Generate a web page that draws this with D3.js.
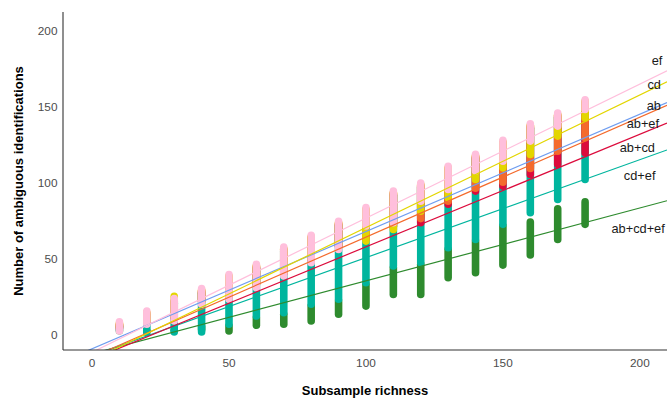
<!DOCTYPE html>
<html>
<head>
<meta charset="utf-8">
<script src="https://cdn.jsdelivr.net/npm/d3@7"></script>
<style>
  html, body { margin: 0; background: #fff; }
  svg { display: block; }
</style>
</head>
<body>
<div id="chart"></div>
<script>
// subsample richness at which each batch of subsamples was drawn
const richness = [10, 20, 30, 40, 50, 60, 70, 80, 90, 100, 110, 120, 130, 140, 150, 160, 170, 180];

// drawing order (later groups cover earlier ones)
const groupNames = ['ab', 'ab+cd+ef', 'cd+ef', 'ab+cd', 'ab+ef', 'cd', 'ef'];
const groupColors = ['#6f9df0', '#2e8b2e', '#00b59e', '#dc0b3c', '#f46a2c', '#e3d600', '#ffbfdc'];

// spread of ambiguous identifications per richness (low / high end of each column)
const abLow = [3, 7.4, 9.6, 20.6, 23.9, 31.5, 39.2, 48, 56.7, 62, 70, 75, 86.5, 95, 99, 108, 119.4, 128.2];
const abHigh = [8.5, 15.7, 23.8, 30.4, 39.6, 46.4, 57.8, 65.5, 74.7, 83.7, 94.7, 99.9, 110.9, 118.8, 128, 138.9, 146, 154.7];
const abcdefLow = [1.5, 1, 1, 1, 0, 3.8, 4.4, 6.6, 11, 16.4, 24.1, 24.1, 35.1, 38.4, 43.4, 50, 60.3, 70.2];
const abcdefHigh = [4, 4, 5, 8, 8.4, 13.9, 16, 21.6, 24.9, 35.8, 46.8, 49, 58.8, 64.3, 74.2, 76.8, 85.5, 90];
const cdefLow = [1, -1.1, -0.7, -0.7, 4.4, 9.9, 12, 17.6, 20.9, 31.8, 42.8, 45, 54.8, 60.3, 70.2, 77.8, 86.6, 99.8];
const cdefHigh = [8, 15.2, 23.3, 29.9, 39.1, 45.9, 57.3, 65, 74.2, 83.2, 94.2, 99.4, 110.4, 118.3, 127.5, 138.4, 145.5, 154.2];
const abcdLow = [2, 6, 9, 20, 23, 31, 38, 47, 56, 61, 69, 71.3, 83.4, 92.1, 95.4, 103, 109.7, 117.3];
const abcdHigh = [9, 16.2, 24.3, 30.9, 40.1, 46.9, 58.3, 66, 75.2, 84.2, 95.2, 100.4, 111.4, 119.3, 128.5, 139.4, 146.5, 155.2];
const abefLow = [2, 6, 9, 20, 23, 31, 38, 47, 56, 61, 69, 74, 85.5, 94, 98, 107, 118.4, 127.2];
const abefHigh = [9.5, 16.7, 24.8, 31.4, 40.6, 47.4, 58.8, 66.5, 75.7, 84.7, 95.7, 100.9, 111.9, 119.8, 129, 139.9, 147, 155.7];
const cdLow = [3, 7, 10, 20, 24, 31, 39, 48, 57, 59.2, 66.9, 78.9, 87.7, 99.8, 107.4, 116.2, 128.3, 140.3];
const cdHigh = [10, 17.2, 27.8, 31.9, 41.1, 47.9, 59.3, 67, 76.2, 85.2, 96.2, 101.4, 112.4, 120.3, 129.5, 140.4, 147.5, 156.2];
const efLow = [0, 4.4, 6.6, 17.6, 20.9, 28.5, 36.2, 45, 53.7, 69.1, 71.3, 85.5, 93.2, 105.3, 111.8, 125, 134.9, 145.8];
const efHigh = [11, 18.2, 26.3, 32.9, 42.1, 48.9, 60.3, 68, 77.2, 86.2, 97.2, 102.4, 113.4, 121.3, 130.5, 141.4, 148.5, 157.2];

const lowByGroup = [abLow, abcdefLow, cdefLow, abcdLow, abefLow, cdLow, efLow];
const highByGroup = [abHigh, abcdefHigh, cdefHigh, abcdHigh, abefHigh, cdHigh, efHigh];

// linear fits, same order as groupNames
const fitSlope = [0.772, 0.480, 0.645, 0.741, 0.790, 0.873, 0.883];
const fitIntercept = [-9.2, -12.5, -13.7, -16.2, -14.7, -16.7, -11.5];

// end-of-line labels (data coordinates, right aligned)
const labelX = [207.7, 209.1, 205.7, 205.5, 207.0, 207.7, 208.2];
const labelY = [151.1, 70.2, 104.8, 123.0, 138.8, 164.9, 180.3];

const xTicks = [0, 50, 100, 150, 200];
const yTicks = [0, 50, 100, 150, 200];

const W = 667, H = 399;
const plot = { left: 63, right: 667, top: 12, bottom: 350 };
const CAP = 3.8;

const svg = d3.select('#chart').append('svg')
  .attr('width', W)
  .attr('height', H)
  .style('font-family', '"Liberation Sans", Arial, sans-serif');

const x = d3.scaleLinear().domain([-10.6, 209.9]).range([plot.left, plot.right]);
const y = d3.scaleLinear().domain([-10, 212.5]).range([plot.bottom, plot.top]);

svg.append('defs').append('clipPath').attr('id', 'plot-clip')
  .append('rect')
  .attr('x', plot.left).attr('y', plot.top)
  .attr('width', plot.right - plot.left).attr('height', plot.bottom - plot.top);

const g = svg.append('g').attr('clip-path', 'url(#plot-clip)');

// point columns: dense stacks of hollow circles read as rounded bars
groupNames.forEach((name, gi) => {
  const rows = richness.map((r, i) => ({ r, lo: lowByGroup[gi][i], hi: highByGroup[gi][i] }));
  g.append('g').attr('class', 'pts')
    .selectAll('line')
    .data(rows)
    .join('line')
    .attr('x1', d => x(d.r))
    .attr('x2', d => x(d.r))
    .attr('y1', d => Math.max(y(d.lo) - CAP, (y(d.lo) + y(d.hi)) / 2))
    .attr('y2', d => Math.min(y(d.hi) + CAP, (y(d.lo) + y(d.hi)) / 2))
    .attr('stroke', groupColors[gi])
    .attr('stroke-width', CAP * 2)
    .attr('stroke-linecap', 'round');
});

// fitted lines
const [x0, x1] = x.domain();
groupNames.forEach((name, gi) => {
  const line = d3.line().x(d => x(d)).y(d => y(fitSlope[gi] * d + fitIntercept[gi]));
  g.append('path')
    .attr('d', line([x0, x1]))
    .attr('fill', 'none')
    .attr('stroke', groupColors[gi])
    .attr('stroke-width', 1.2);
});

// line labels
svg.append('g')
  .selectAll('text')
  .data(groupNames)
  .join('text')
  .attr('x', (d, i) => x(labelX[i]))
  .attr('y', (d, i) => y(labelY[i]))
  .attr('dy', '0.35em')
  .attr('text-anchor', 'end')
  .attr('font-size', 12.8)
  .attr('fill', '#1a1a1a')
  .text(d => d);

// axes
const axisColor = '#333';
svg.append('line')
  .attr('x1', plot.left).attr('x2', plot.left)
  .attr('y1', plot.top).attr('y2', plot.bottom)
  .attr('stroke', axisColor).attr('stroke-width', 1.1);
svg.append('line')
  .attr('x1', plot.left).attr('x2', plot.right)
  .attr('y1', plot.bottom).attr('y2', plot.bottom)
  .attr('stroke', axisColor).attr('stroke-width', 1.1);

svg.append('g')
  .selectAll('text')
  .data(yTicks)
  .join('text')
  .attr('x', 57.5)
  .attr('y', d => y(d))
  .attr('dy', '0.35em')
  .attr('text-anchor', 'end')
  .attr('font-size', 11.8)
  .attr('fill', '#4d4d4d')
  .text(d => d);

svg.append('g')
  .selectAll('text')
  .data(xTicks)
  .join('text')
  .attr('x', d => x(d))
  .attr('y', 363)
  .attr('dy', '0.35em')
  .attr('text-anchor', 'middle')
  .attr('font-size', 11.8)
  .attr('fill', '#4d4d4d')
  .text(d => d);

svg.append('text')
  .attr('x', (plot.left + plot.right) / 2)
  .attr('y', 390)
  .attr('dy', '0.35em')
  .attr('text-anchor', 'middle')
  .attr('font-size', 13)
  .attr('font-weight', 'bold')
  .attr('fill', '#000')
  .text('Subsample richness');

svg.append('text')
  .attr('transform', `translate(18,${(plot.top + plot.bottom) / 2}) rotate(-90)`)
  .attr('dy', '0.35em')
  .attr('text-anchor', 'middle')
  .attr('font-size', 13)
  .attr('font-weight', 'bold')
  .attr('fill', '#000')
  .text('Number of ambiguous identifications');
</script>
</body>
</html>
